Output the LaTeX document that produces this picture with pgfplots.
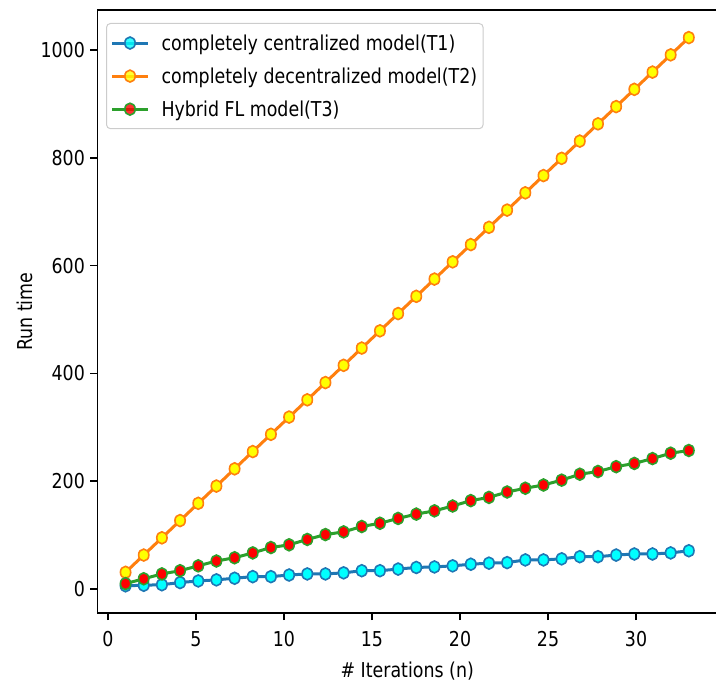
\documentclass[border=0pt]{standalone}
\usepackage{fontspec}
\setmainfont{DejaVu Sans}[FakeStretch=0.85]
\usepackage{pgfplots}
\pgfplotsset{compat=1.18}
\usepackage{pgfplotstable}
\definecolor{tabblue}{HTML}{1F77B4}
\definecolor{taborange}{HTML}{FF7F0E}
\definecolor{tabgreen}{HTML}{2CA02C}
\definecolor{legframe}{HTML}{CCCCCC}
\definecolor{mcyan}{RGB}{0,255,255}
\definecolor{myellow}{RGB}{255,255,0}
\definecolor{mred}{RGB}{255,0,0}

\pgfplotstableread{
x T1 T2 T3
1.000 6 31 10
2.032 7 63 19
3.065 8 95 28
4.097 12 127 34
5.129 15 159 43
6.161 17 191 52
7.194 20 223 58
8.226 23 255 67
9.258 23 287 77
10.290 26 319 82
11.323 28 351 92
12.355 28 383 101
13.387 30 415 106
14.419 34 447 116
15.452 34 479 122
16.484 37 511 131
17.516 40 543 139
18.548 41 575 145
19.581 43 607 154
20.613 46 639 164
21.645 48 671 170
22.677 49 703 180
23.710 54 735 187
24.742 54 767 193
25.774 56 799 202
26.806 60 831 213
27.839 60 863 218
28.871 63 895 227
29.903 65 927 233
30.935 65 959 242
31.968 67 991 252
33.000 71 1023 257
}\data

\begin{document}
\begin{tikzpicture}[font=\fontsize{20.5}{24}\selectfont]
\path[use as bounding box] (0,0) rectangle (716pt,683pt);
\begin{axis}[
  at={(97.4pt,69.8pt)}, anchor=south west,
  scale only axis, width=619.6pt, height=603pt,
  xmin=-0.6, xmax=34.6, ymin=-44.85, ymax=1073.85,
  xtick={0,5,...,30}, ytick={0,200,...,1000},
  tick align=outside, tick pos=left,
  major tick length=7pt,
  every tick/.style={black, line width=1.5pt},
  axis line style={line width=1.5pt},
  x tick label style={yshift=-8pt},
  y tick label style={xshift=-2pt},
  /pgf/number format/assume math mode=true,
  /pgf/number format/set thousands separator={},
  xlabel={\# Iterations (n)}, ylabel={Run time},
  x label style={at={(axis description cs:0.5,-0.0955)}, anchor=center},
  y label style={at={(axis description cs:-0.1169,0.5)}, anchor=center, rotate=0},
  legend cell align=left,
  legend style={at={(axis description cs:0.0139,0.9788)}, anchor=north west,
    draw=legframe, line width=1pt, rounded corners=4pt, fill=white,
    fill opacity=0.8, text opacity=1, draw opacity=1,
    inner xsep=4pt, inner ysep=9pt, row sep=12pt, column sep=10pt,
    font=\fontsize{20.5}{24}\selectfont},
  legend image code/.code={\draw[line width=3pt, sharp corners, mark repeat=2, mark phase=2] plot coordinates {(0pt,0pt) (18pt,0pt) (36pt,0pt)};},
]
\addplot[tabblue, line width=3pt, mark=*, mark size=6pt,
  mark options={fill=mcyan, draw=tabblue, line width=1.6pt, xscale=0.86}]
  table[x=x, y=T1]{\data};
\addlegendentry{completely centralized model(T1)}
\addplot[taborange, line width=3pt, mark=*, mark size=6pt,
  mark options={fill=myellow, draw=taborange, line width=1.6pt, xscale=0.86}]
  table[x=x, y=T2]{\data};
\addlegendentry{completely decentralized model(T2)}
\addplot[tabgreen, line width=3pt, mark=*, mark size=6pt,
  mark options={fill=mred, draw=tabgreen, line width=1.6pt, xscale=0.86}]
  table[x=x, y=T3]{\data};
\addlegendentry{Hybrid FL model(T3)}
\end{axis}
\end{tikzpicture}
\end{document}
